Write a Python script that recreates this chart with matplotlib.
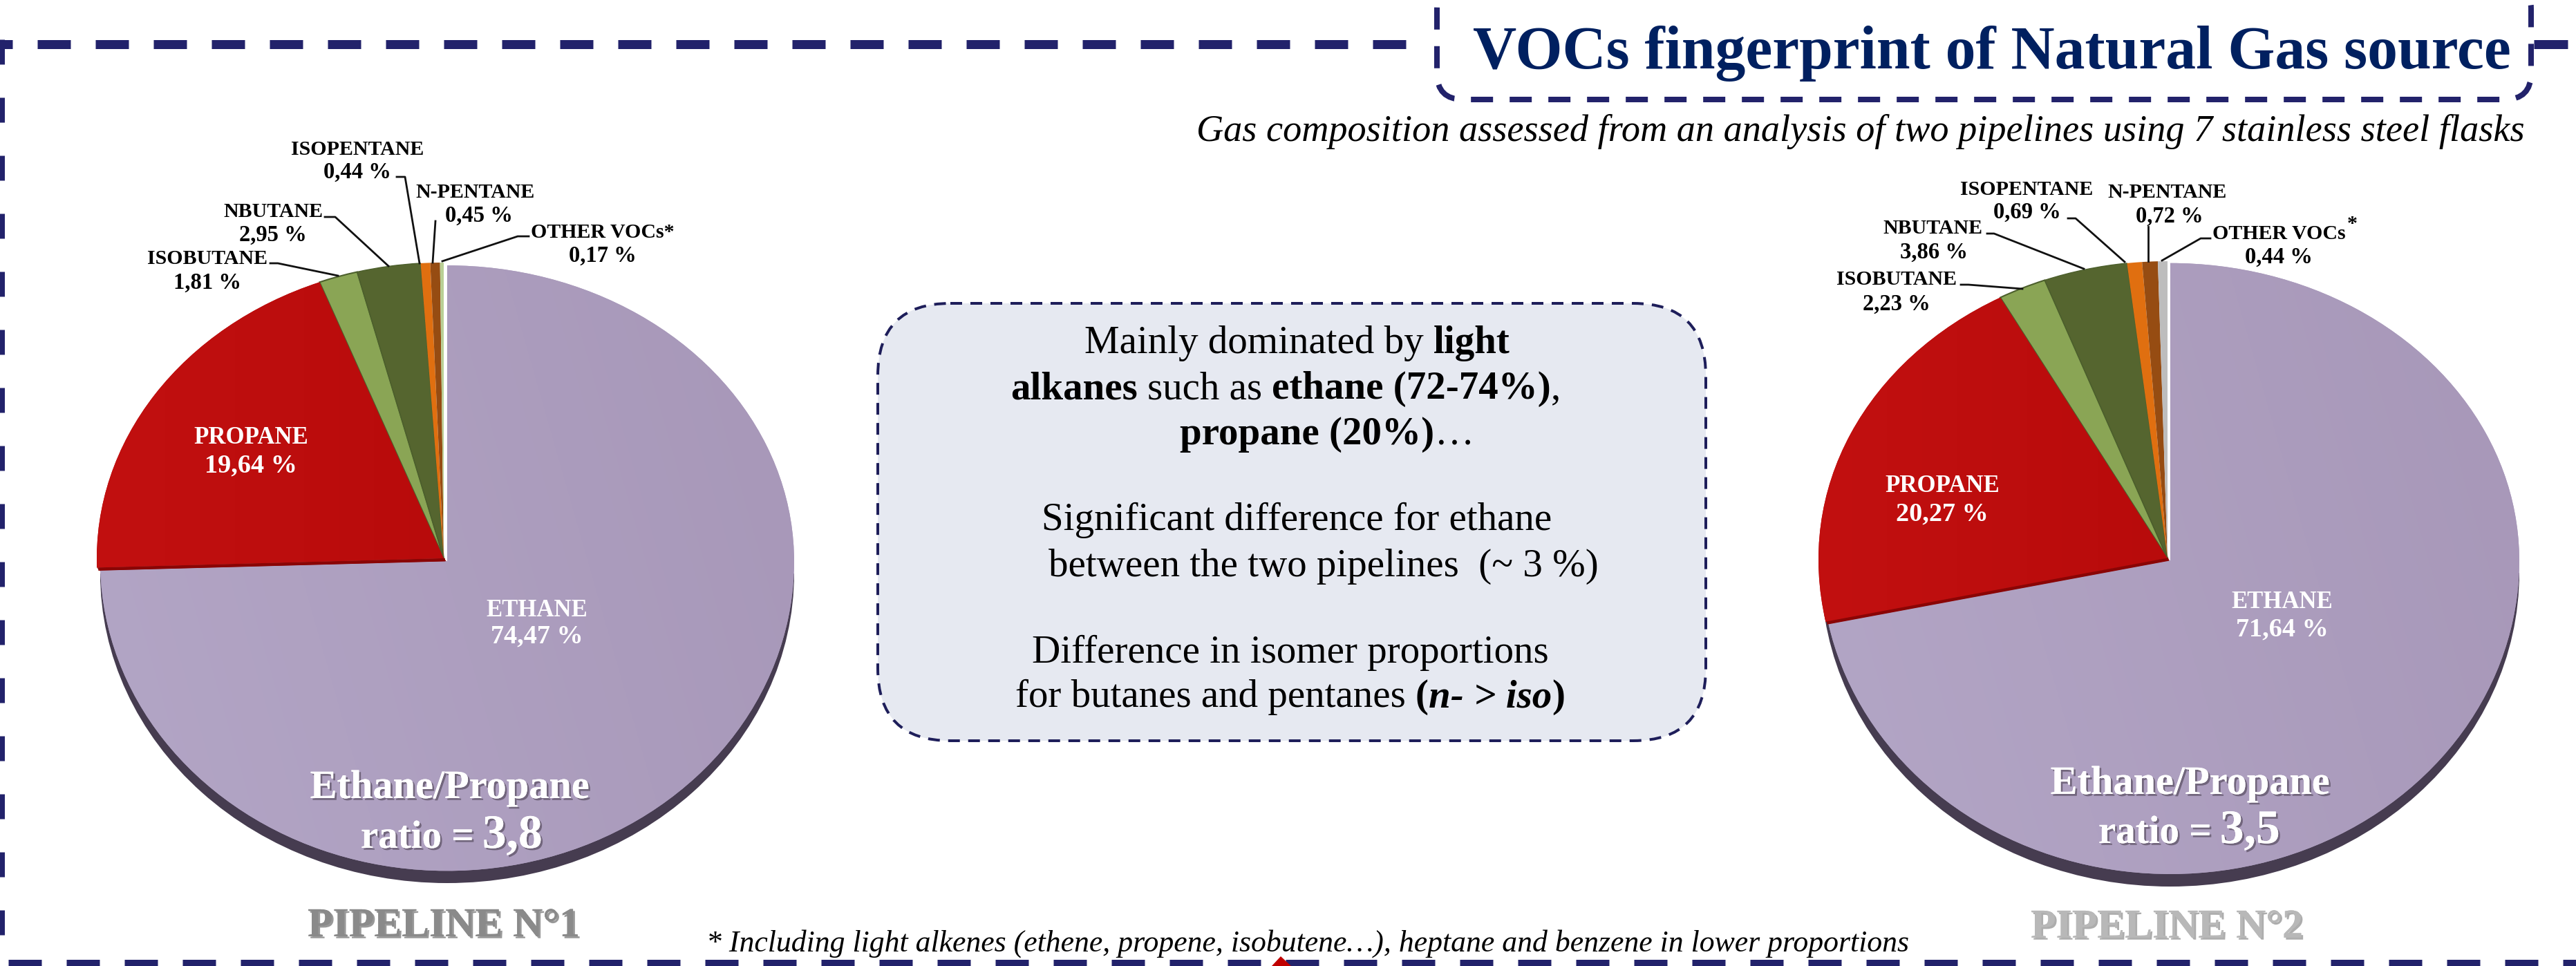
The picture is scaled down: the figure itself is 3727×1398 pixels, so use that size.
import numpy as np
import matplotlib
matplotlib.use("Agg")
import matplotlib.pyplot as plt
import matplotlib.patheffects as pe
from matplotlib.patches import Ellipse, FancyBboxPatch, Polygon, Rectangle
from matplotlib.lines import Line2D

plt.rcParams['font.family'] = ['Liberation Serif', 'DejaVu Serif']
plt.rcParams['lines.scale_dashes'] = False

W, H = 3727, 1398
DPI = 100

compounds = ['ETHANE', 'PROPANE', 'ISOBUTANE', 'NBUTANE', 'ISOPENTANE', 'N-PENTANE', 'OTHER VOCs']
pipeline1_values = [74.47, 19.64, 1.81, 2.95, 0.44, 0.45, 0.17]
pipeline2_values = [71.64, 20.27, 2.23, 3.86, 0.69, 0.72, 0.44]
pipeline1_labels = ['74,47 %', '19,64 %', '1,81 %', '2,95 %', '0,44 %', '0,45 %', '0,17 %']
pipeline2_labels = ['71,64 %', '20,27 %', '2,23 %', '3,86 %', '0,69 %', '0,72 %', '0,44 %']
colors1 = ['#ad9fbf', '#b80b0b', '#8aa555', '#55652f', '#e06f10', '#964c12', '#b9cf95']
colors2 = ['#ad9fbf', '#b80b0b', '#8aa555', '#55652f', '#e06f10', '#964c12', '#bdbdbd']

NAVY = '#22226b'
DARK = '#463c50'


def px_axes(zorder):
    a = fig.add_axes([0, 0, 1, 1], zorder=zorder)
    a.set_xlim(0, W)
    a.set_ylim(H, 0)
    a.axis('off')
    a.patch.set_alpha(0)
    return a


fig = plt.figure(figsize=(W / DPI, H / DPI), dpi=DPI, facecolor='white')
bg = px_axes(0)
top = px_axes(5)
renderer = fig.canvas.get_renderer()


def pie_at(values, colors, cx, cy, rx, ryu, ryd, bottom, explode, grad_ethane, grad_red):
    m = 1.1
    left = cx - rx * m
    y_top = cy - ryu * m
    height = (ryu + ryd) * m
    a = fig.add_axes([left / W, 1 - (y_top + height) / H, 2 * rx * m / W, height / H], zorder=2)
    wedges, _ = a.pie(values, colors=colors, startangle=90, counterclock=False, radius=1,
                      explode=[explode] + [0] * 6, wedgeprops=dict(linewidth=0))
    a.set_aspect('auto')

    def fwd(y):
        y = np.asarray(y, float)
        return np.where(y >= 0, y * ryu, y * ryd)

    def inv(v):
        v = np.asarray(v, float)
        return np.where(v >= 0, v / ryu, v / ryd)

    a.set_yscale('function', functions=(fwd, inv))
    a.set_xlim(-m, m)
    a.set_ylim(-m, m)
    a.axis('off')
    wedges[2].set_edgecolor('#4c5f2c')
    wedges[2].set_linewidth(1.5)
    wedges[3].set_edgecolor('#4c5f2c')
    wedges[3].set_linewidth(1.0)

    total = sum(values)
    th = np.deg2rad(90 - 360 * values[0] / total)
    mid = np.deg2rad(90 - 180 * values[0] / total)
    ox, oy = explode * np.cos(mid) * rx, -explode * np.sin(mid) * ryd
    ex, ey = cx + rx * np.cos(th), cy - ryd * np.sin(th)
    # dark side rim under the propane slice
    bg.add_patch(Polygon([(cx, cy), (ex, ey), (ex + ox, ey + oy + 1), (cx + ox, cy + oy + 1)],
                         closed=True, facecolor='#8a0505', edgecolor='none'))
    # dark side of the disc
    sh_cy = bottom - ryd
    sh = Ellipse((cx + ox, sh_cy), 2 * rx, 2 * ryd, facecolor=DARK, edgecolor='none')
    bg.add_patch(sh)
    sh.set_clip_path(Rectangle((0, sh_cy), W, H, transform=bg.transData))

    # soft shading of the two big slices
    ext = (cx - rx - 10, cx + rx + 10, cy + ryd + 10, cy - ryu - 10)
    yy, xx = np.mgrid[0:1:64j, 0:1:64j]
    for wedge, (c0, c1), tt in ((wedges[0], grad_ethane, 0.8 * xx + 0.2 * (1 - yy)),
                                (wedges[1], grad_red, xx * 2.0)):
        rgb0 = np.array(matplotlib.colors.to_rgb(c0))
        rgb1 = np.array(matplotlib.colors.to_rgb(c1))
        t = np.clip(tt, 0, 1)[..., None]
        img = rgb0 * (1 - t) + rgb1 * t
        im2 = top.imshow(img, extent=ext, aspect='auto', interpolation='bilinear', zorder=1)
        im2.set_clip_path(wedge)
    top.add_line(Line2D([cx + ox * 0.4, ex + ox * 0.4], [cy + oy * 0.5, ey + oy * 0.5],
                        color='#8a0505', lw=3.2, solid_capstyle='butt', zorder=2))
    top.set_xlim(0, W)
    top.set_ylim(H, 0)


pie_at(pipeline1_values, colors1, 642, 808, 502, 428, 448, 1278, 0.0138,
       ('#b3a6c6', '#a797b8'), ('#c21010', '#b80b0b'))
pie_at(pipeline2_values, colors2, 3136, 808, 505, 430, 454, 1283, 0.0102,
       ('#b3a6c6', '#a797b8'), ('#c21010', '#b80b0b'))


# ---------- frame ----------
def dashed(xs, ys, lw_px, on_px, off_px, offset_px=0.0, color=NAVY, ax=bg):
    l = Line2D(xs, ys, color=color, lw=lw_px * 0.72, solid_capstyle='butt',
               dash_capstyle='butt', dash_joinstyle='miter',
               linestyle=(offset_px * 0.72, (on_px * 0.72, off_px * 0.72)))
    ax.add_line(l)


dashed([18, 2040], [63.5, 63.5], 13, 48, 36, offset_px=48)
bg.add_line(Line2D([-1, 18], [63.5, 63.5], color=NAVY, lw=13 * .72, solid_capstyle='butt'))
bg.add_line(Line2D([3666, 3715], [63.5, 63.5], color=NAVY, lw=13 * .72, solid_capstyle='butt'))
dashed([0, 0], [57, 1398], 13, 36, 48, offset_px=0)
dashed([0, 3727], [1394.5, 1394.5], 13, 48, 36, offset_px=72)

# title box
tb = FancyBboxPatch((2079, -25), 3662 - 2079, 144 + 25, boxstyle='round,pad=0,rounding_size=38',
                    facecolor='none', edgecolor=NAVY, lw=8 * .72,
                    linestyle=(0, (32 * .72, 24 * .72)), capstyle='butt')
bg.add_patch(tb)

# small red tip on the lower border
bg.add_patch(Polygon([(1840, 1398), (1853, 1384), (1868, 1398)], closed=True,
                     facecolor='#c00000', edgecolor='none', zorder=4))

# centre box
cb = FancyBboxPatch((1270, 439), 2468 - 1270, 1072 - 439, boxstyle='round,pad=0,rounding_size=105',
                    facecolor='#e6e9f1', edgecolor='#1e1e5a', lw=4 * .72,
                    linestyle=(0, (17 * .72, 12 * .72)), capstyle='butt')
bg.add_patch(cb)


def T(x, y, s, size, color='black', weight='normal', style='normal', ha='center', shadow=None, z=6):
    t = top.text(x, y + 3, s, fontsize=size, color=color, fontweight=weight, fontstyle=style,
                 ha=ha, va='center', zorder=z)
    if shadow:
        t.set_path_effects([pe.withSimplePatchShadow(offset=(2.0, -2.0), shadow_rgbFace=shadow, alpha=0.6),
                            pe.Normal()])
    return t


T(2882, 75, 'VOCs fingerprint of Natural Gas source', 63, color='#002060', weight='bold')
T(3653, 188, 'Gas composition assessed from an analysis of two pipelines using 7 stainless steel flasks',
  39.1, style='italic', ha='right')
T(1892, 1363, '* Including light alkenes (ethene, propene, isobutene…), heptane and benzene in lower proportions',
  31.5, style='italic')

LS = 21.5
PS = 23.5
label_pos1 = {'ISOPENTANE': ((517, 213), (517, 246)), 'N-PENTANE': ((688, 275), (693, 309)),
              'NBUTANE': ((395, 304), (395, 337)), 'ISOBUTANE': ((300, 372), (300, 406)),
              'OTHER VOCs': ((872, 333), (872, 367))}
label_pos2 = {'ISOPENTANE': ((2932, 271), (2933, 304)), 'N-PENTANE': ((3136, 275), (3139, 310)),
              'NBUTANE': ((2796, 327), (2798, 362)), 'ISOBUTANE': ((2744, 402), (2744, 437)),
              'OTHER VOCs': ((3297, 335), (3297, 369))}
names1 = {'OTHER VOCs': 'OTHER VOCs*'}
for name, val in zip(compounds, pipeline1_labels):
    if name in label_pos1:
        a, b = label_pos1[name]
        T(*a, names1.get(name, name), LS, weight='bold')
        T(*b, val, PS, weight='bold')
for name, val in zip(compounds, pipeline2_labels):
    if name in label_pos2:
        a, b = label_pos2[name]
        T(*a, name, LS, weight='bold')
        T(*b, val, PS, weight='bold')
T(3403, 322, '*', LS, weight='bold')

leaders = [
    [(574, 256), (586, 256), (607, 381)], [(630, 320), (626, 380)], [(470, 314), (485, 314), (562, 385)],
    [(391, 381), (402, 381), (489, 399)], [(765, 342), (749, 342), (640, 378)],
    [(2992, 316), (3003, 316), (3074, 379)], [(3107.5, 328), (3107.5, 378)], [(2875, 338), (2885, 338), (3015, 389)],
    [(2837, 412), (2848, 412), (2926, 418)], [(3198, 345), (3184, 345), (3128, 377)],
]
for seg in leaders:
    xs, ys = zip(*seg)
    top.add_line(Line2D(xs, ys, color='#111111', lw=2.0))

# in-slice labels
T(363, 630, 'PROPANE', 25, color='white', weight='bold')
T(363, 671, pipeline1_labels[1], 27.5, color='white', weight='bold')
T(2810, 700, 'PROPANE', 25, color='white', weight='bold')
T(2810, 741, pipeline2_labels[1], 27.5, color='white', weight='bold')
T(777, 880, 'ETHANE', 25, color='white', weight='bold')
T(777, 918, pipeline1_labels[0], 27.5, color='white', weight='bold')
T(3302, 868, 'ETHANE', 25, color='white', weight='bold')
T(3302, 908, pipeline2_labels[0], 27.5, color='white', weight='bold')

T(651, 1138, 'Ethane/Propane', 42, color='white', weight='bold', shadow='#4a4050')
T(3169, 1132, 'Ethane/Propane', 42, color='white', weight='bold', shadow='#4a4050')


def runs(y, x0, parts, size):
    """Draw pieces of one line side by side, each with its own weight and style."""
    x = x0
    for s, w, st, gap in parts:
        t = T(x, y, s, size, weight=w, style=st, ha='left')
        bb = t.get_window_extent(renderer)
        x += bb.width * W / fig.bbox.width + gap


# ratio lines: label plus larger number
for x0, y, num in ((522, 1210, '3,8'), (3036, 1203, '3,5')):
    t1 = T(x0, y, 'ratio =', 41, color='white', weight='bold', ha='left', shadow='#4a4050')
    w1 = t1.get_window_extent(renderer).width
    T(x0 + w1 + 12, y - 3, num, 50, color='white', weight='bold', ha='left', shadow='#4a4050')

T(642, 1338, 'PIPELINE N°1', 43, color='#8a8a8a', weight='bold', shadow='#555555')
T(3135, 1340, 'PIPELINE N°2', 43, color='#b8b8b8', weight='bold', shadow='#777777')

# centre text
CS = 41
SP = 14
runs(494, 1569, [('Mainly dominated by', 'normal', 'normal', SP), ('light', 'bold', 'normal', 0)], CS)
runs(560, 1462, [('alkanes', 'bold', 'normal', SP), ('such as', 'normal', 'normal', SP),
                 ('ethane (72-74%)', 'bold', 'normal', 0), (',', 'normal', 'normal', 0)], CS)
runs(626, 1707, [('propane (20%)', 'bold', 'normal', 1), ('…', 'normal', 'normal', 0)], CS)
runs(750, 1507, [('Significant difference for ethane', 'normal', 'normal', 0)], CS)
runs(817, 1517, [('between the two pipelines  (~ 3 %)', 'normal', 'normal', 0)], CS)
runs(942, 1493, [('Difference in isomer proportions', 'normal', 'normal', 0)], CS)
runs(1006, 1469, [('for butanes and pentanes', 'normal', 'normal', SP), ('(', 'bold', 'normal', 0),
                  ('n- > iso', 'bold', 'italic', 0), (')', 'bold', 'normal', 0)], CS)

fig.savefig('out.png', dpi=DPI, facecolor='white')
